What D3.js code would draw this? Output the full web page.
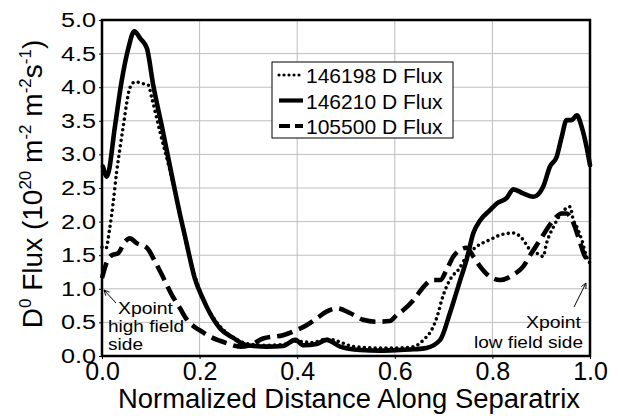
<!DOCTYPE html>
<html>
<head>
<meta charset="utf-8">
<script src="https://cdn.jsdelivr.net/npm/d3@7"></script>
<style>
  html, body { margin: 0; padding: 0; background: #fff; }
  svg { display: block; font-family: "Liberation Sans", Arial, sans-serif; }
</style>
</head>
<body>
<svg id="chart" width="618" height="416"></svg>
<script>
// ---------- data ----------
const xTicks = [0.0, 0.2, 0.4, 0.6, 0.8, 1.0];
const yTicks = [0.0, 0.5, 1.0, 1.5, 2.0, 2.5, 3.0, 3.5, 4.0, 4.5, 5.0];

const seriesNames = ["146198 D Flux", "146210 D Flux", "105500 D Flux"];

// 146198 (dotted)
const dottedX = [0.0, 0.008, 0.016, 0.023, 0.03, 0.037, 0.044, 0.051, 0.057, 0.068, 0.085, 0.095, 0.102, 0.12, 0.143, 0.16, 0.175, 0.19, 0.21, 0.23, 0.25, 0.27, 0.3, 0.34, 0.37, 0.4, 0.43, 0.46, 0.474, 0.494, 0.515, 0.563, 0.61, 0.638, 0.659, 0.679, 0.689, 0.696, 0.706, 0.717, 0.73, 0.747, 0.768, 0.795, 0.816, 0.843, 0.863, 0.877, 0.891, 0.904, 0.911, 0.925, 0.942, 0.959, 0.966, 0.973, 0.983, 0.993, 1.0];
const dottedY = [1.62, 1.6, 1.91, 2.29, 2.74, 3.1, 3.44, 3.78, 3.99, 4.08, 4.05, 4.03, 3.84, 3.3, 2.65, 2.1, 1.6, 1.2, 0.8, 0.55, 0.38, 0.27, 0.18, 0.16, 0.17, 0.22, 0.2, 0.25, 0.24, 0.19, 0.14, 0.12, 0.12, 0.14, 0.24, 0.44, 0.64, 0.83, 1.03, 1.18, 1.28, 1.48, 1.63, 1.73, 1.8, 1.83, 1.73, 1.58, 1.53, 1.48, 1.68, 1.92, 2.13, 2.22, 2.02, 1.92, 1.73, 1.48, 1.38];

// 146210 (solid)
const solidX = [0.002, 0.01, 0.027, 0.04, 0.054, 0.066, 0.079, 0.092, 0.105, 0.122, 0.143, 0.16, 0.172, 0.19, 0.207, 0.221, 0.242, 0.269, 0.297, 0.338, 0.371, 0.396, 0.413, 0.44, 0.46, 0.488, 0.529, 0.57, 0.611, 0.64, 0.665, 0.693, 0.713, 0.734, 0.747, 0.761, 0.775, 0.795, 0.809, 0.829, 0.843, 0.863, 0.884, 0.904, 0.918, 0.932, 0.942, 0.952, 0.962, 0.973, 0.983, 0.993, 1.0];
const solidY = [2.82, 2.67, 3.44, 4.08, 4.58, 4.83, 4.72, 4.58, 4.03, 3.44, 2.69, 2.1, 1.72, 1.16, 0.85, 0.64, 0.41, 0.27, 0.16, 0.14, 0.15, 0.24, 0.16, 0.18, 0.24, 0.14, 0.09, 0.08, 0.09, 0.1, 0.12, 0.24, 0.64, 1.13, 1.43, 1.83, 2.02, 2.17, 2.27, 2.35, 2.48, 2.42, 2.37, 2.52, 2.82, 2.97, 3.26, 3.51, 3.51, 3.58, 3.41, 3.11, 2.84];

// 105500 (dashed)
const dashedX = [0.0, 0.01, 0.02, 0.033, 0.047, 0.057, 0.071, 0.092, 0.109, 0.126, 0.143, 0.16, 0.174, 0.19, 0.201, 0.221, 0.256, 0.283, 0.303, 0.33, 0.371, 0.4, 0.42, 0.44, 0.46, 0.481, 0.508, 0.535, 0.563, 0.59, 0.604, 0.617, 0.638, 0.659, 0.676, 0.693, 0.706, 0.72, 0.734, 0.747, 0.761, 0.775, 0.795, 0.816, 0.843, 0.863, 0.88, 0.898, 0.911, 0.925, 0.942, 0.952, 0.966, 0.98, 0.99, 1.0];
const dashedY = [1.16, 1.4, 1.5, 1.53, 1.7, 1.75, 1.68, 1.61, 1.4, 1.16, 0.91, 0.71, 0.54, 0.43, 0.38, 0.29, 0.19, 0.14, 0.16, 0.26, 0.31, 0.39, 0.46, 0.56, 0.66, 0.71, 0.64, 0.54, 0.51, 0.52, 0.61, 0.68, 0.83, 1.03, 1.13, 1.13, 1.28, 1.48, 1.58, 1.61, 1.48, 1.33, 1.18, 1.13, 1.21, 1.33, 1.53, 1.73, 1.88, 2.02, 2.12, 2.12, 1.98, 1.68, 1.48, 1.43];

// ---------- layout ----------
const svg = d3.select("#chart");
const L = 102, R = 590, T = 20, B = 356;
const x = d3.scaleLinear().domain([0, 1]).range([L, R]);
const y = d3.scaleLinear().domain([0, 5]).range([B, T]);

const styles = [
  { width: 3.6, dash: "0 5.4", cap: "round" },
  { width: 4.6, dash: null, cap: "round" },
  { width: 4.6, dash: "16 7", cap: "butt" }
];

// gridlines
svg.append("g").selectAll("line").data(yTicks.slice(1, -1)).join("line")
  .attr("x1", L).attr("x2", R).attr("y1", d => y(d)).attr("y2", d => y(d))
  .attr("stroke", "#bdbdbd").attr("stroke-width", 1);
svg.append("g").selectAll("line").data(xTicks.slice(1, -1)).join("line")
  .attr("y1", T).attr("y2", B).attr("x1", d => x(d)).attr("x2", d => x(d))
  .attr("stroke", "#bdbdbd").attr("stroke-width", 1);

// series
const series = [
  { xs: dottedX, ys: dottedY },
  { xs: solidX, ys: solidY },
  { xs: dashedX, ys: dashedY }
];
const line = d3.line().x(d => x(d[0])).y(d => y(d[1])).curve(d3.curveMonotoneX);
const plot = svg.append("g");
[2, 0, 1].forEach(i => {
  const s = series[i];
  const pts = s.xs.map((v, k) => [v, s.ys[k]]);
  plot.append("path").datum(pts)
    .attr("d", line)
    .attr("fill", "none")
    .attr("stroke", "#000")
    .attr("stroke-width", styles[i].width)
    .attr("stroke-linecap", styles[i].cap)
    .attr("stroke-linejoin", "round")
    .attr("stroke-dasharray", styles[i].dash);
});

// frame
svg.append("rect").attr("x", L).attr("y", T).attr("width", R - L).attr("height", B - T)
  .attr("fill", "none").attr("stroke", "#000").attr("stroke-width", 2.5);

// axes
const yAxis = svg.append("g").attr("transform", `translate(${L},0)`)
  .call(d3.axisLeft(y).tickValues(yTicks).tickFormat(d3.format(".1f")).tickSize(3).tickPadding(3));
yAxis.select(".domain").remove();
yAxis.selectAll("text").attr("font-size", 20).attr("fill", "#000")
  .attr("font-family", "Liberation Sans, Arial, sans-serif")
  .attr("textLength", 35).attr("lengthAdjust", "spacingAndGlyphs");

const xAxis = svg.append("g").attr("transform", `translate(0,${B})`)
  .call(d3.axisBottom(x).tickValues(xTicks).tickFormat(d3.format(".1f")).tickSize(3).tickPadding(3));
xAxis.select(".domain").remove();
xAxis.selectAll("text").attr("font-size", 25).attr("fill", "#000")
  .attr("font-family", "Liberation Sans, Arial, sans-serif");

// axis titles
svg.append("text").attr("x", (118 + 580) / 2).attr("y", 408)
  .attr("text-anchor", "middle").attr("font-size", 27)
  .attr("textLength", 462).attr("lengthAdjust", "spacingAndGlyphs")
  .text("Normalized Distance Along Separatrix");

const yt = svg.append("text")
  .attr("transform", "translate(42,184) rotate(-90)")
  .attr("text-anchor", "middle").attr("font-size", 28);
yt.append("tspan").text("D");
yt.append("tspan").attr("font-size", 17).attr("dy", -11).text("0");
yt.append("tspan").attr("dy", 11).text(" Flux (10");
yt.append("tspan").attr("font-size", 17).attr("dy", -11).text("20");
yt.append("tspan").attr("dy", 11).text(" m");
yt.append("tspan").attr("font-size", 17).attr("dy", -11).text("-2");
yt.append("tspan").attr("dy", 11).text(" m");
yt.append("tspan").attr("font-size", 17).attr("dy", -11).text("-2");
yt.append("tspan").attr("dy", 11).text("s");
yt.append("tspan").attr("font-size", 17).attr("dy", -11).text("-1");
yt.append("tspan").attr("dy", 11).text(")");

// legend
const lg = svg.append("g");
lg.append("rect").attr("x", 272).attr("y", 62).attr("width", 181).attr("height", 76)
  .attr("fill", "#fff").attr("stroke", "#000").attr("stroke-width", 1);
const legendDash = ["0 5", null, "11 5"];
seriesNames.forEach((name, i) => {
  const cy = 75 + i * 25.5;
  lg.append("line").attr("x1", 279).attr("x2", 303).attr("y1", cy).attr("y2", cy)
    .attr("stroke", "#000").attr("stroke-width", i === 0 ? 3.2 : 4.2)
    .attr("stroke-linecap", i === 0 ? "round" : "butt")
    .attr("stroke-dasharray", legendDash[i]);
  lg.append("text").attr("x", 306).attr("y", cy + 8).attr("font-size", 21).text(name);
});

// annotations
const ann = svg.append("g").attr("font-size", 16);
const annTexts = [
  { t: "Xpoint", x: 118, y: 314, len: 55, anchor: "start" },
  { t: "high field", x: 108, y: 332, len: 76, anchor: "start" },
  { t: "side", x: 108, y: 350, len: 35, anchor: "start" },
  { t: "Xpoint", x: 581, y: 328, len: 55, anchor: "end" },
  { t: "low field side", x: 583, y: 348, len: 109, anchor: "end" }
];
annTexts.forEach(a => {
  ann.append("text").attr("x", a.x).attr("y", a.y).attr("text-anchor", a.anchor)
    .attr("textLength", a.len).attr("lengthAdjust", "spacingAndGlyphs").text(a.t);
});

function arrow(x1, y1, x2, y2) {
  ann.append("line").attr("x1", x1).attr("y1", y1).attr("x2", x2).attr("y2", y2)
    .attr("stroke", "#000").attr("stroke-width", 1);
  const a = Math.atan2(y2 - y1, x2 - x1), len = 6, w = 0.45;
  const p1 = [x2 - len * Math.cos(a - w), y2 - len * Math.sin(a - w)];
  const p2 = [x2 - len * Math.cos(a + w), y2 - len * Math.sin(a + w)];
  ann.append("path").attr("d", `M${p1[0]},${p1[1]}L${x2},${y2}L${p2[0]},${p2[1]}`)
    .attr("fill", "none").attr("stroke", "#000").attr("stroke-width", 1);
}
arrow(116, 303, 104, 290);
arrow(574, 307, 586, 283);
</script>
</body>
</html>
